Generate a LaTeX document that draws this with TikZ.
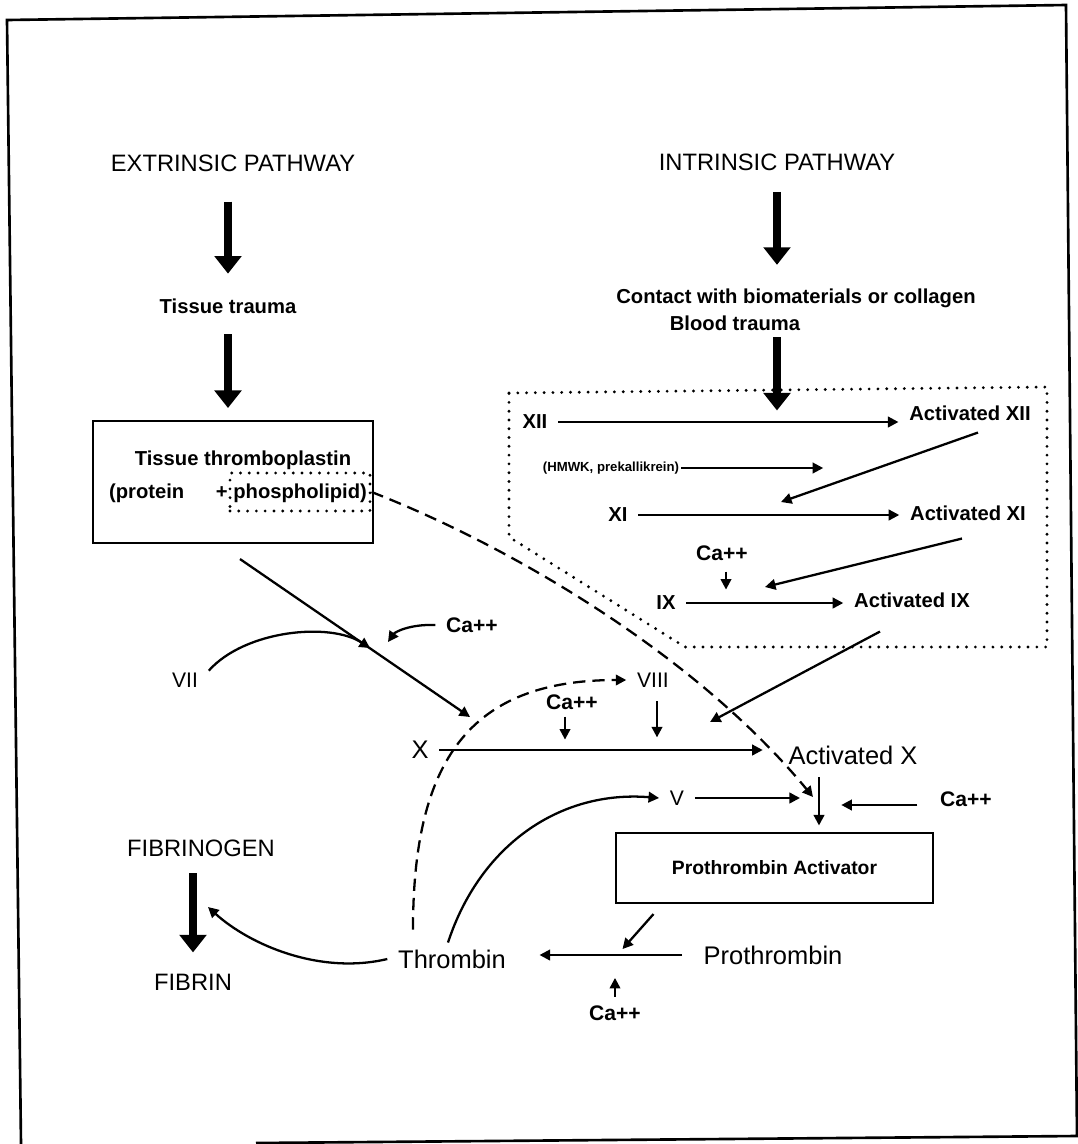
\documentclass[tikz,border=0pt]{standalone}
\usepackage{fontspec}
\setmainfont{Liberation Sans}
\usetikzlibrary{arrows.meta}

\begin{document}
\begin{tikzpicture}[
  x=0.02cm, y=-0.02cm,
  lbl/.style={inner xsep=6pt, inner ysep=1pt, font=\fontsize{12}{14}\selectfont},
  small/.style={lbl, font=\bfseries\fontsize{11.5}{13}\selectfont},
  ca/.style={lbl, font=\bfseries\fontsize{12}{14}\selectfont},
  big/.style={lbl, font=\fontsize{14.5}{17}\selectfont},
  head/.style={lbl, font=\fontsize{13.5}{16}\selectfont},
  box/.style={draw, line width=1.2pt, inner sep=0pt},
  arr/.style={line width=1.3pt, -{Triangle[length=6pt, width=6pt]}},
  fat/.style={line width=4.5pt, -{Triangle[length=10pt, width=15pt]}},
  dashline/.style={line width=1.4pt, dash pattern=on 7pt off 4pt},
  dotline/.style={line width=1.8pt, line cap=round, dash pattern=on 0pt off 5pt}
]
\useasboundingbox (0,0) rectangle (1078,1144);
\draw[line width=1.5pt] (21,1144) -- (7,20) -- (1066,5) -- (1077,1136) -- (256,1143);

% extrinsic side
\node[head] (ext) at (233,163) {EXTRINSIC PATHWAY};
\node[small] (trauma) at (228,306) {Tissue trauma};
\node[box, minimum width=5.6cm, minimum height=2.44cm] (tt) at (233,482) {};
\node[small] (ttname) at (243,460) {Tissue thromboplastin};
\node[small] (prot) at (238,493) {(protein\hspace{18pt}+ phospholipid)};
\node[box, dotline, minimum width=2.8cm, minimum height=0.76cm] (phos) at (300,492) {};
\draw[fat, shorten <=16pt, shorten >=13pt] (trauma.north |- ext.south) -- (trauma.north);
\draw[fat, shorten <=10.7pt, shorten >=6.8pt] (trauma.south) -- (trauma.south |- tt.north);

% intrinsic side
\node[head] (int) at (777,162) {INTRINSIC PATHWAY};
\node[small] (contact) at (796,298) {Contact with biomaterials or collagen};
\node[small] (blood) at (735,323) {Blood trauma};
\node[small] (xii) at (535,422) {XII};
\node[small] (axii) at (970,413) {Activated XII};
\node[small, inner xsep=1pt, font=\bfseries\fontsize{7.5}{9}\selectfont] (hmwk) at (611,468) {(HMWK, prekallikrein)};
\node[small] (xi) at (618,515) {XI};
\node[small] (axi) at (968,513) {Activated XI};
\node[ca] (ca1) at (722,553) {Ca++};
\node[small] (ix) at (666,603) {IX};
\node[small] (aix) at (912,600) {Activated IX};
\draw[dotline] (509,393) -- (1047,387) -- (1047,647) -- (685,647) -- (509,537) -- cycle;
\draw[fat, shorten <=11pt, shorten >=12.3pt] (int.south) -- (int.south |- contact.north);
\draw[fat, shorten <=2.7pt, shorten >=1.4pt] (int.south |- blood.south) -- (int.south |- xii.north);

\coordinate (onxi) at (781,502);
\coordinate (onix) at (765,587);
\coordinate (onx) at (710,722);
\draw[arr] (xii.east) -- (xii.east -| axii.west);
\draw[arr] (hmwk.east) -- ++(142,0);
\draw[arr] ([shift={(8,10)}]axii.south) -- (onxi);
\draw[arr] (xi.east) -- (xi.east -| axi.west);
\draw[arr] ([shift={(-6,16)}]axi.south) -- (onix);
\draw[arr] ([shift={(4,9)}]ca1.south) -- ++(0,18);
\draw[arr] (ix.east) -- (ix.east -| aix.west);
\draw[arr] ([shift={(-32,22)}]aix.south) -- (onx);

% common pathway
\node[lbl] (vii) at (185,680) {VII};
\node[ca] (ca2) at (472,625) {Ca++};
\node[big] (x) at (420,750) {X};
\node[lbl] (viii) at (653,680) {VIII};
\node[ca] (ca3) at (572,702) {Ca++};
\node[big] (ax) at (853,755) {Activated X};
\node[lbl] (v) at (677,798) {V};
\node[ca] (ca4) at (966,799) {Ca++};
\node[box, small, inner sep=0pt, font=\bfseries\fontsize{11}{13}\selectfont,
      minimum width=6.34cm, minimum height=1.4cm] (pa) at (774.5,868) {Prothrombin Activator};
\node[big] (thrombin) at (452,959) {Thrombin};
\node[big] (prothrombin) at (773,955) {Prothrombin};
\node[ca] (ca5) at (615,1013) {Ca++};
\node[head] (fibrinogen) at (201,848) {FIBRINOGEN};
\node[head] (fibrin) at (193,982) {FIBRIN};

\coordinate (xin) at (470,717);
\coordinate (onxin) at (370,648);
\coordinate (onca) at (388,642);
\coordinate (tapv) at (800,798);
\coordinate (tapd) at (813,797);
\coordinate (fib) at (208,907);

\draw[arr] ([shift={(7,15)}]tt.south) -- (xin);
\draw[arr] (vii.north east) .. controls (245,630) and (330,622) .. (onxin);
\draw[arr] (ca2.west) .. controls (410,624) and (395,632) .. (onca);
\draw[arr, shorten >=8.5pt] (x.east) -- (x.east -| ax.west);
\draw[arr] ([shift={(-7,5)}]ca3.south) -- ++(0,23);
\draw[arr] ([shift={(4,12)}]viii.south) -- ++(0,36);
\draw[dashline, arr] ([shift={(-39,-18)}]thrombin.north) .. controls (413,760) and (470,680) .. (viii.west);
\draw[dashline, arr] (phos.east) .. controls (520,550) and (700,660) .. (tapd);
\draw[arr] ([shift={(-34,11)}]ax.south) -- ++(0,48);
\draw[arr] (v.east) -- (tapv);
\draw[arr] ([shift={(-12,6)}]ca4.west) -- ++(-76,0);
\draw[arr] ([shift={(-4,-5)}]thrombin.north) .. controls (480,845) and (560,790) .. (v.west);
\draw[arr] ([shift={(-121,10)}]pa.south) -- ++(-31,35);
\draw[arr, shorten <=6pt, shorten >=13pt] (prothrombin.west) -- (prothrombin.west -| thrombin.east);
\draw[arr] ([yshift=6.5*0.02cm]ca5.north) -- ++(0,-19);
\draw[arr] (thrombin.west) .. controls (320,975) and (250,945) .. (fib);
\draw[fat, shorten <=8.5pt, shorten >=11pt] (fibrin.north |- fibrinogen.south) -- (fibrin.north);
\end{tikzpicture}
\end{document}
